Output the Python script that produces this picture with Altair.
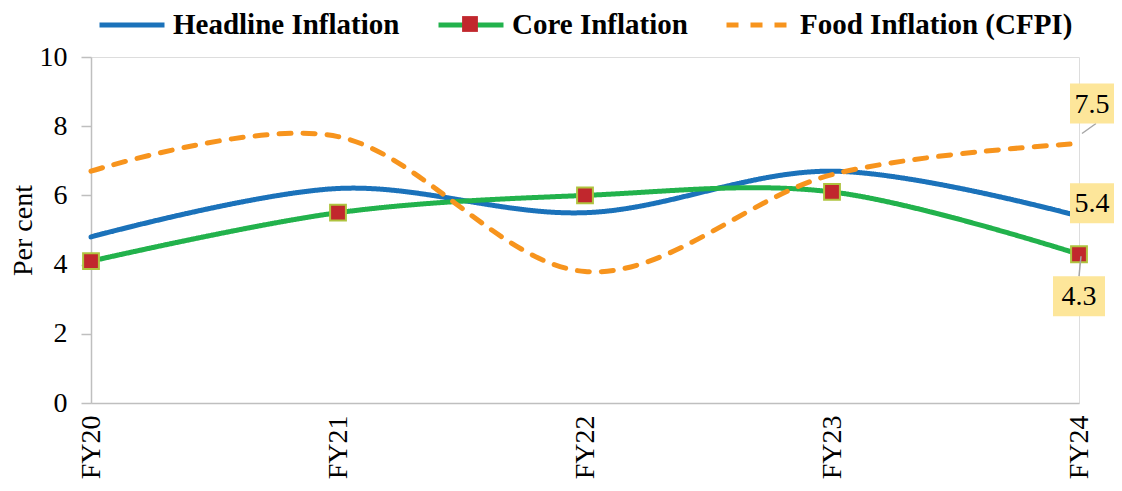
import altair as alt
import pandas as pd

years = ["FY20", "FY21", "FY22", "FY23", "FY24"]
headline = [4.8, 6.2, 5.5, 6.7, 5.4]
core = [4.1, 5.5, 6.0, 6.1, 4.3]
food = [6.7, 7.7, 3.8, 6.6, 7.5]
series_names = ["Headline Inflation", "Core Inflation", "Food Inflation (CFPI)"]
y_ticks = [0, 2, 4, 6, 8, 10]

colors = ["#1B72BA", "#22B24C", "#F7941D"]
FONT = "Liberation Serif"

rows = []
for name, vals in zip(series_names, [headline, core, food]):
    for yr, v in zip(years, vals):
        rows.append({"year": yr, "value": v, "series": name})
df = pd.DataFrame(rows)

x_enc = alt.X("year:N", sort=years,
              scale=alt.Scale(type="point", padding=0, domain=years),
              axis=alt.Axis(title=None, labelAngle=270, ticks=False, labelPadding=12))
y_enc = alt.Y("value:Q", scale=alt.Scale(domain=[0, 10], nice=False),
              axis=alt.Axis(title="Per cent", values=y_ticks, titlePadding=2,
                            tickSize=10, labelPadding=14))

color_scale = alt.Scale(domain=series_names, range=colors)
dash_scale = alt.Scale(domain=series_names, range=[[1, 0], [1, 0], [12, 12]])
legend = alt.Legend(title=None, orient="none", direction="horizontal", legendX=6, legendY=-67,
                    labelFont=FONT, labelFontSize=29, labelFontWeight="bold", labelColor="#000000",
                    symbolType="stroke", symbolSize=4225, symbolStrokeWidth=5,
                    labelOffset=6, columnPadding=28, padding=0, labelLimit=400)

lines = alt.Chart(df).mark_line(strokeWidth=5, interpolate="cardinal", tension=0,
                                strokeCap="round").encode(
    x=x_enc, y=y_enc,
    color=alt.Color("series:N", scale=color_scale, legend=legend, sort=series_names),
    strokeDash=alt.StrokeDash("series:N", scale=dash_scale, legend=legend, sort=series_names),
)

core_df = df[df["series"] == "Core Inflation"].copy()
core_df["marker"] = "Core Inflation marker"
marker_legend = alt.Legend(title=None, orient="none", legendX=370, legendY=-42,
                           symbolType="square", symbolSize=250,
                           symbolFillColor="#C1272D", symbolStrokeColor="#AFC33F",
                           symbolStrokeWidth=2, symbolOpacity=1,
                           labelOpacity=0, labelFontSize=1, labelLimit=1, padding=0)
markers = alt.Chart(core_df).mark_point(filled=True, size=250,
                                         fill="#C1272D", stroke="#AFC33F", strokeWidth=2,
                                         opacity=1).encode(
    x=alt.X("year:N", sort=years), y="value:Q",
    shape=alt.Shape("marker:N", scale=alt.Scale(range=["square"]), legend=marker_legend))

# data labels for the last year
last = years[-1]
label_specs = [
    # series, box offsets (x1, x2, y1, y2), leader offsets (x1, x2, y1, y2) or None
    ("Food Inflation (CFPI)", (-9, 35, -60, -20), (3, 17, -10, -20)),
    ("Headline Inflation", (-9, 35, -33, 7), None),
    ("Core Inflation", (-26, 26, 22, 62), (2, 0, 2, 22)),
]
label_layers = []
for name, box, lead in label_specs:
    ldf = df[(df["series"] == name) & (df["year"] == last)]
    base = alt.Chart(ldf)
    if lead is not None:
        label_layers.append(base.mark_rule(color="#A6A6A6", strokeWidth=1.5,
                                           xOffset=lead[0], x2Offset=lead[1],
                                           yOffset=lead[2], y2Offset=lead[3]).encode(
            x=alt.X("year:N", sort=years), x2="year:N", y="value:Q", y2="value:Q"))
    label_layers.append(base.mark_rect(color="#FDE69A",
                                       xOffset=box[0], x2Offset=box[1],
                                       yOffset=box[2], y2Offset=box[3]).encode(
        x=alt.X("year:N", sort=years), x2="year:N", y="value:Q", y2="value:Q"))
    label_layers.append(base.mark_text(font=FONT, fontSize=28, color="#000000",
                                       align="center", baseline="middle",
                                       dx=(box[0] + box[1]) / 2,
                                       dy=(box[2] + box[3]) / 2 + 1).encode(
        x=alt.X("year:N", sort=years), y="value:Q",
        text=alt.Text("value:Q", format=".1f")))

chart = alt.layer(lines, markers, *label_layers).properties(
    width=988, height=346,
    autosize=alt.AutoSizeParams(type="none"),
    padding={"left": 83, "top": 49, "right": 35, "bottom": 80},
).configure_view(stroke=None).configure(background="#FFFFFF").configure_axis(
    labelFont=FONT, labelFontSize=28, labelColor="#000000",
    titleFont=FONT, titleFontSize=28, titleFontWeight="normal", titleColor="#000000",
    domainColor="#BFBFBF", domainWidth=1.5, tickColor="#BFBFBF", tickWidth=1.5, grid=False,
)

chart.save("out.html", embed_options={"renderer": "svg", "actions": False})
